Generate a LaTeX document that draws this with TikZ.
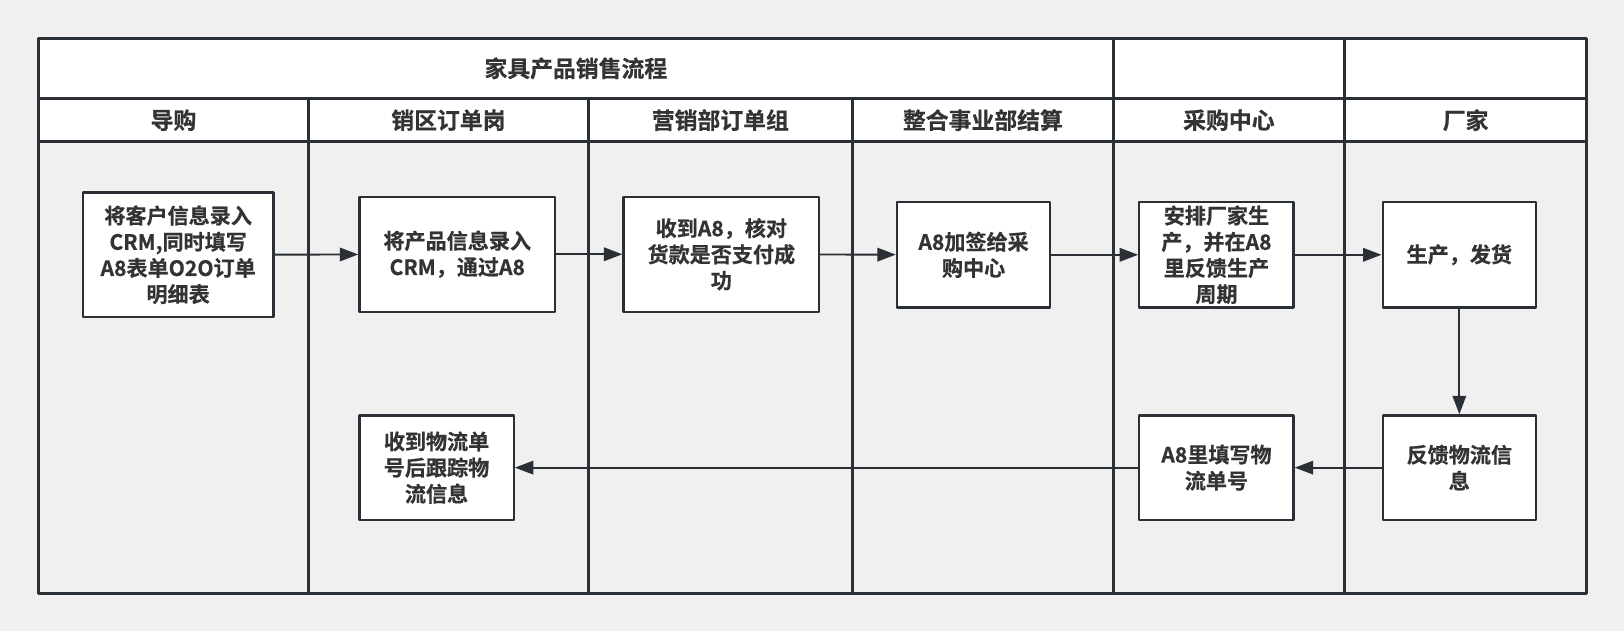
\documentclass[tikz,border=0pt]{standalone}
\usepackage{fontspec}
\setmainfont{Noto Sans CJK SC}[BoldFont={Noto Sans CJK SC Bold},
  BoldFeatures={FakeBold=0.6}]
\usepackage{tikz}
\usetikzlibrary{arrows.meta}
\definecolor{efefef}{rgb}{0.94,0.94,0.94}
\definecolor{zqzqzq}{rgb}{0.17,0.19,0.21}
\definecolor{zzzzzz}{rgb}{0.2,0.2,0.2}

\begin{document}
\begin{tikzpicture}[line cap=round,line join=round,
  >={Triangle[length=0.37cm,width=0.27cm]},x=0.020714cm,y=-0.020714cm,
  lane/.style={line width=1.6pt,color=zqzqzq},
  box/.style={draw=zqzqzq,line width=1.3pt,fill=white,align=center,
    inner sep=0pt,text=zzzzzz,font=\fontsize{12}{14.9}\selectfont\bfseries},
  lbl/.style={text=zzzzzz,font=\fontsize{13}{15}\selectfont\bfseries},
  flow/.style={->,line width=1.1pt,color=zqzqzq}]
  \fill[color=efefef] (0,0) rectangle (1568,609);
  \useasboundingbox (0,0) rectangle (1568,609);
  % title and lane headers
  \fill[color=white] (37,37) rectangle (1532,137);
  \draw[lane] (37,37) rectangle (1532,573);
  \draw[lane] (37,95) -- (1532,95); \draw[lane] (37,137) -- (1532,137);
  \foreach \x in {298,568,823} \draw[lane] (\x,95) -- (\x,573);
  \foreach \x in {1075,1298} \draw[lane] (\x,37) -- (\x,573);
  \node[lbl] (title) at (556,66) {家具产品销售流程};
  \foreach \a/\b/\t/\n in {37/298/导购/dg,298/568/销区订单岗/xq,
    568/823/营销部订单组/yx,823/1075/整合事业部结算/zh,
    1075/1298/采购中心/cg,1298/1532/厂家/cj}
    \node[lbl] (\n) at ({(\a+\b)/2},116) {\t};
  % steps
  \node[box,minimum width=3.81cm,minimum height=2.49cm] (khxx) at (172,246)
    {将客户信息录入\\CRM,同时填写\\A8表单O2O订单\\明细表};
  \node[box,minimum width=3.915cm,minimum height=2.3cm] (cpxx) at (441.5,245.5)
    {将产品信息录入\\CRM，通过A8};
  \node[box,minimum width=3.915cm,minimum height=2.3cm] (hkzf) at (696.5,245.5)
    {收到A8，核对\\货款是否支付成\\功};
  \node[box,minimum width=3.066cm,minimum height=2.113cm] (jqcg) at (940,246)
    {A8加签给采\\购中心};
  \node[box,minimum width=3.086cm,minimum height=2.113cm] (apsc) at (1174.5,246)
    {安排厂家生\\产，并在A8\\里反馈生产\\周期};
  \node[box,minimum width=3.066cm,minimum height=2.113cm] (scfh) at (1409,246)
    {生产，发货};
  \node[box,minimum width=3.066cm,minimum height=2.09cm] (fkwl) at (1409,451.5)
    {反馈物流信\\息};
  \node[box,minimum width=3.086cm,minimum height=2.09cm] (txdh) at (1174.5,451.5)
    {A8里填写物\\流单号};
  \node[box,minimum width=3.086cm,minimum height=2.09cm] (gzwl) at (421.5,451.5)
    {收到物流单\\号后跟踪物\\流信息};
  % flow
  \draw[flow] (khxx) -- (cpxx);
  \draw[flow] (cpxx) -- (hkzf);
  \draw[flow] (hkzf) -- (jqcg);
  \draw[flow] (jqcg) -- (apsc);
  \draw[flow] (apsc) -- (scfh);
  \draw[flow] (scfh) -- (fkwl);
  \draw[flow] (fkwl) -- (txdh);
  \draw[flow] (txdh) -- (gzwl);
\end{tikzpicture}
\end{document}
